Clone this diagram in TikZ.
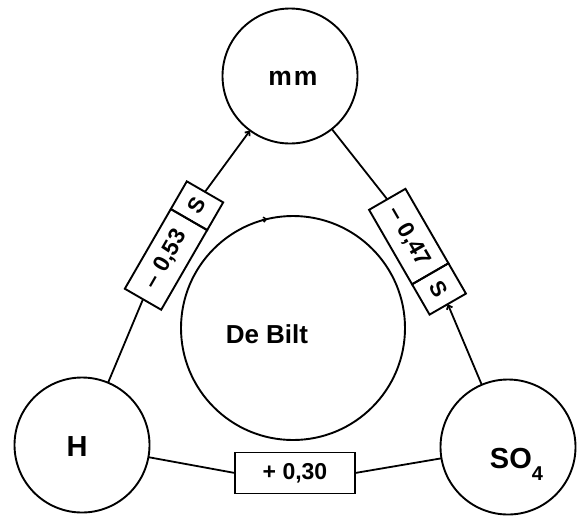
\documentclass[tikz,border=0pt]{standalone}
\usepackage{fontspec}
\setmainfont{Liberation Sans}
\usetikzlibrary{arrows.meta}
\begin{document}
\begin{tikzpicture}[x=1pt,y=-1pt,
  line width=1.9pt,
  station/.style={circle,draw,minimum size=135pt,inner sep=0pt,outer sep=0pt},
  nametext/.style={inner sep=0pt,font=\bfseries\fontsize{29}{29}\selectfont},
  coefbox/.style={draw,rectangle,minimum height=42pt,inner sep=0pt,outer sep=0pt,
    font=\bfseries\fontsize{23}{23}\selectfont},
  signbox/.style={coefbox,font=\bfseries\fontsize{22}{22}\selectfont},
  link/.style={line width=1.8pt},
  tip/.style={-{Straight Barb[length=3.5pt,width=6pt]}}
]
\useasboundingbox (0,0) rectangle (580,515);

% stations
\node[station] (mm) at (290,76) {};
\node[station] (H) at (82,445) {};
\node[station] (SO4) at (508,447) {};
\node[circle,draw,minimum size=224pt,inner sep=0pt,outer sep=0pt] (bilt) at (293,328) {};

% station names
\node[nametext,font=\bfseries\fontsize{26.5}{27}\selectfont] (mmtext) at (293,78) {m\kern2pt m};
\node[nametext] (Htext) at (77,447) {H};
\node[nametext,anchor=base west] (SOtext) at (489,468)
  {SO\raisebox{-12pt}{\fontsize{20}{20}\selectfont 4}};
\node[nametext,font=\bfseries\fontsize{26}{26}\selectfont] (bilttext) at (267,334) {De\hspace{7pt}Bilt};

% small tip on the De Bilt circle
\draw[line width=1.5pt,-{Straight Barb[length=3pt,width=5pt]}] (262,219.8) -- (267.5,219.1);

% correlation boxes
\node[coefbox,minimum width=92pt,rotate=60] (lnum) at (166,259.4) {– 0,53};
\node[signbox,minimum width=32pt,rotate=60,anchor=west] (ls) at (lnum.east) {S};

\node[coefbox,minimum width=86pt,rotate=-60] (rnum) at (408.75,236.55) {– 0,47};
\node[signbox,minimum width=35pt,rotate=-60,anchor=west] (rs) at (rnum.east) {S};

\node[coefbox,minimum width=120pt,minimum height=41pt] (bnum) at (295,473) {+ 0,30};

% connectors
\draw[link] (H) -- (lnum.west);
\draw[link,tip] (ls.east) -- (mm);
\draw[link] (mm) -- (rnum.west);
\draw[link,tip] (SO4) -- (rs.east);
\draw[link] (H) -- (bnum.west);
\draw[link] (bnum.east) -- (SO4);
\end{tikzpicture}
\end{document}
